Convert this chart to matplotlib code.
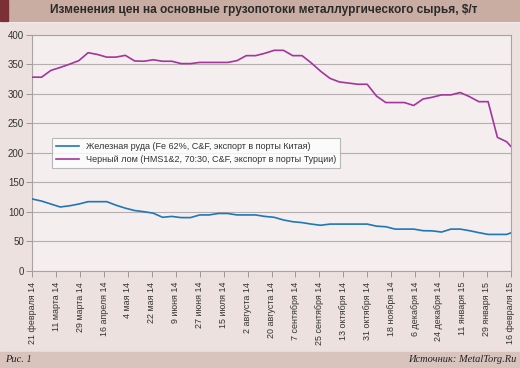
import numpy as np
import pandas as pd
import matplotlib
matplotlib.use("Agg")
import matplotlib.pyplot as plt
from matplotlib.patches import Rectangle

plt.rcParams['font.family'] = ['Liberation Sans', 'DejaVu Sans']

# weekly observations from 21 Feb 2014, last one on 16 Feb 2015
dates = list(pd.date_range('2014-02-21', periods=52, freq='7D')) + [pd.Timestamp('2015-02-16')]

ore = [121.5, 118, 113, 108, 110, 113, 117, 117, 117, 111, 106, 102, 100, 97.5,
       90.5, 92, 90, 90, 94.5, 94.5, 97, 97, 94.5, 94.5, 94.5, 92, 90.5, 86,
       83, 81.5, 79, 77, 79, 79, 79, 79, 79, 75.5, 74.5, 70.5, 70.5, 70.5,
       67.8, 67.5, 65.5, 70.5, 70.5, 67.8, 64.5, 61.5, 61.5, 61.5, 64]

scrap = [328, 328, 339.5, 344.5, 350, 356, 369.5, 366.5, 362, 362, 365, 355.5,
         355, 357.5, 355, 355, 351, 351, 353, 353, 353, 353, 356, 364.5, 364.5,
         368.5, 373.5, 373.5, 364.5, 364.5, 352, 338, 326, 320, 318, 316, 316,
         296, 285, 285, 285, 280, 291, 294, 298, 298, 302, 295, 286.5, 286.5,
         226, 218.5, 211]

tick_dates = pd.date_range('2014-02-21', periods=21, freq='18D')
tick_labels = ['21 февраля 14', '11 марта 14', '29 марта 14', '16 апреля 14',
               '4 мая 14', '22 мая 14', '9 июня 14', '27 июня 14', '15 июля 14',
               '2 августа 14', '20 августа 14', '7 сентября 14', '25 сентября 14',
               '13 октября 14', '31 октября 14', '18 ноября 14', '6 декабря 14',
               '24 декабря 14', '11 января 15', '29 января 15', '16 февраля 15']

ore_label = 'Железная руда (Fe 62%, C&F, экспорт в порты Китая)'
scrap_label = 'Черный лом (HMS1&2, 70:30, C&F, экспорт в порты Турции)'

W, H = 520, 368
fig = plt.figure(figsize=(W / 100, H / 100), dpi=100)
fig.patch.set_facecolor('white')

# decorative bands behind everything
def band(x, y, w, h, color):
    fig.patches.append(Rectangle((x / W, 1 - (y + h) / H), w / W, h / H,
                                 transform=fig.transFigure, color=color, zorder=-10))

band(0, 0, W, 21, '#c9ada3')
band(0, 0, 8, 21, '#7b3038')
band(0, 23, W, 328, '#ece1de')
band(0, 352, W, 16, '#d9c4bd')

fig.text(264 / W, 1 - 10.5 / H, 'Изменения цен на основные грузопотоки металлургического сырья, $/т',
         ha='center', va='center', fontsize=8.55, fontweight='bold', color='#2a2a2a')
fig.text(5 / W, 1 - 360 / H, 'Рис. 1', ha='left', va='center', fontsize=7.5,
         family='Liberation Serif', style='italic', color='#222222')
fig.text(516 / W, 1 - 360 / H, 'Источник: MetalTorg.Ru', ha='right', va='center',
         fontsize=7.5, family='Liberation Serif', style='italic', color='#222222')

ax = fig.add_axes([32.3 / W, 1 - 270.7 / H, (510.7 - 32.3) / W, (270.7 - 34.7) / H])
ax.set_zorder(1)
ax.set_facecolor('#f4eeee')
ax.plot(dates, ore, color='#2076b6', lw=1.2, label=ore_label, zorder=3)
ax.plot(dates, scrap, color='#a3359c', lw=1.2, label=scrap_label, zorder=3)

ax.set_ylim(0, 400)
ax.set_yticks(range(0, 401, 50))
ax.set_xlim(pd.Timestamp('2014-02-21'), pd.Timestamp('2015-02-16'))
ax.set_xticks(tick_dates)
ax.set_xticklabels(tick_labels, rotation=90)
ax.grid(axis='y', color='#b5aeae', lw=0.8, zorder=1)
ax.set_axisbelow(True)
for s in ax.spines.values():
    s.set_color('#aaa3a3')
    s.set_linewidth(0.8)
ax.tick_params(axis='both', colors='#333333', length=4, width=0.7, direction='out')
ax.tick_params(axis='both', color='#999999')
ax.tick_params(axis='y', labelsize=7, pad=2)
ax.tick_params(axis='x', labelsize=6.4, pad=4)

leg = ax.legend(loc='upper left', bbox_to_anchor=(19.5 / 478.4, 1 - (138.3 - 34.7) / 236),
                fontsize=6.5, frameon=True, fancybox=False, borderpad=0.45,
                borderaxespad=0, handlelength=2.6, labelspacing=0.45, handletextpad=0.7)
leg.get_frame().set_edgecolor('#aaaaaa')
leg.get_frame().set_linewidth(0.8)
for t in leg.get_texts():
    t.set_color('#333333')

fig.savefig('out.png', dpi=100, facecolor=fig.get_facecolor())
